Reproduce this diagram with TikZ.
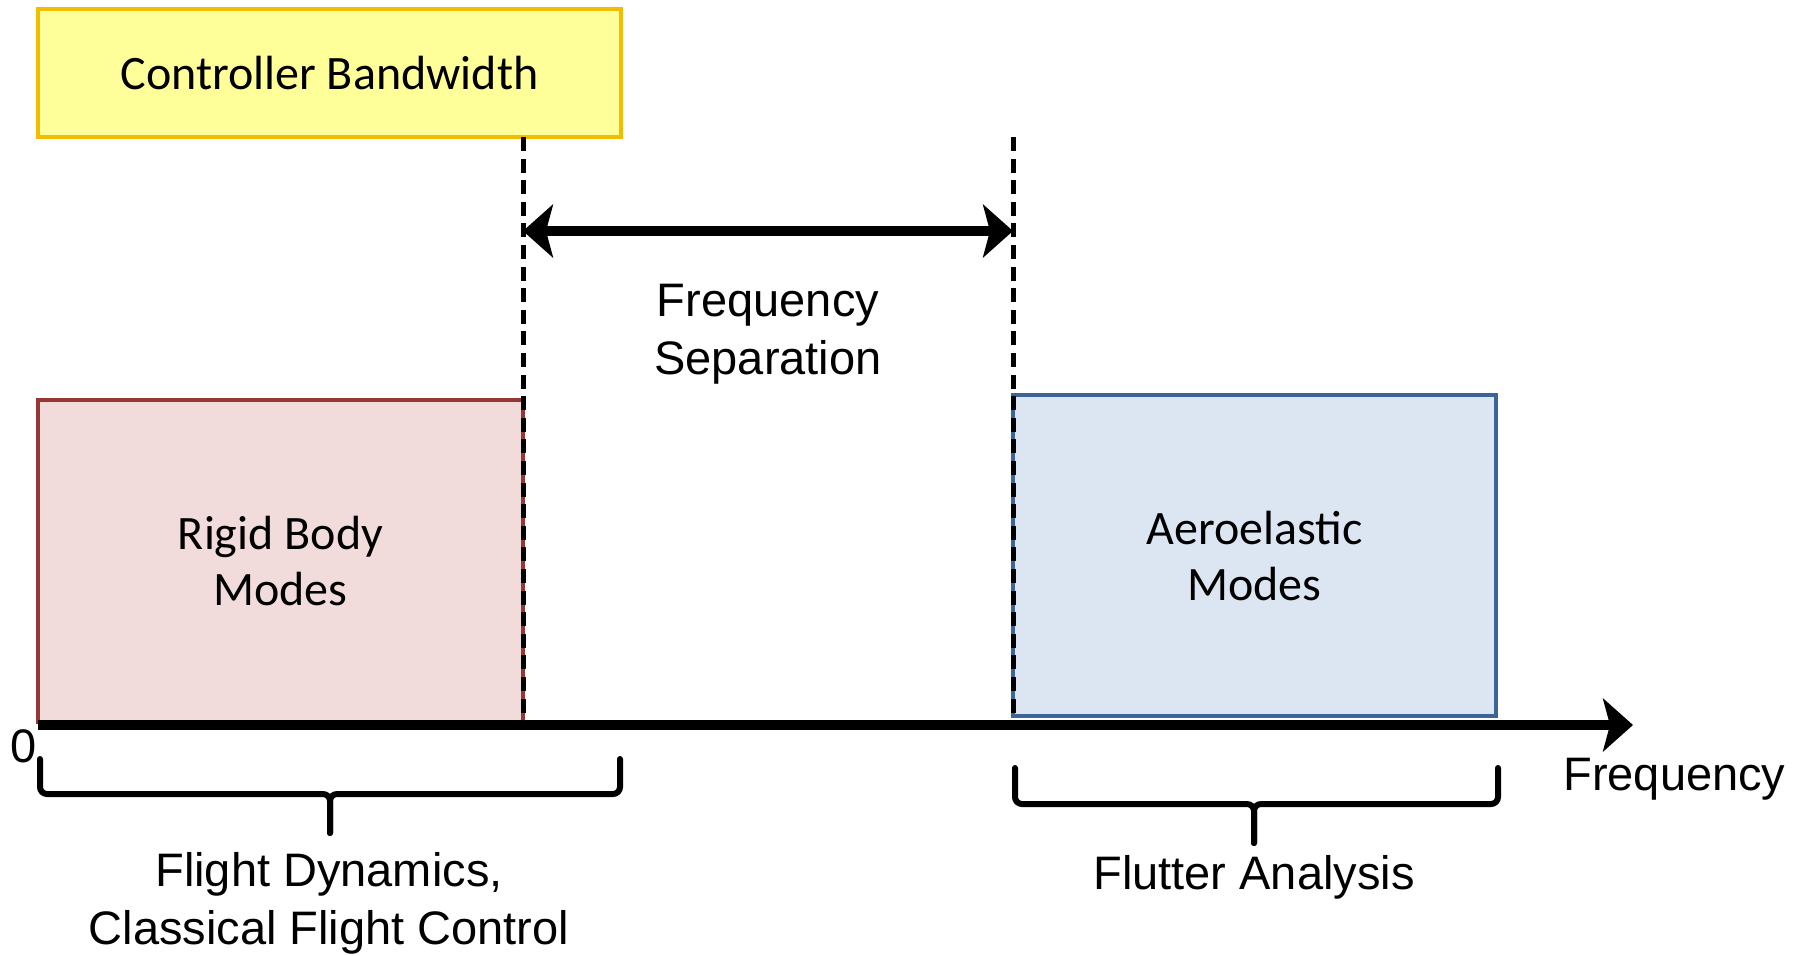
\documentclass[tikz,border=0pt]{standalone}
\usepackage{fontspec}
\setmainfont{Liberation Sans}
\newfontfamily\calfont{Carlito}
\usetikzlibrary{arrows.meta}
\definecolor{yfill}{HTML}{FFFF99}
\definecolor{ydraw}{HTML}{F2BC00}
\definecolor{rfill}{HTML}{F2DCDB}
\definecolor{rdraw}{HTML}{953735}
\definecolor{bfill}{HTML}{DCE6F2}
\definecolor{bdraw}{HTML}{3C6494}
\tikzset{
  modebox/.style={draw, line width=2.25pt, inner sep=0pt, align=center,
    font=\calfont\fontsize{24}{28}\selectfont},
  arialtext/.style={inner sep=0pt, align=center, font=\fontsize{23.5}{29}\selectfont},
  sepline/.style={line width=2.5pt, dash pattern=on 7pt off 3.8pt},
  bigarrow/.style={line width=4.75pt},
  bracepath/.style={line width=3pt, rounded corners=3.5pt, line cap=round},
  bigtip/.tip={Stealth[length=15pt, width=26.5pt, inset=3.5pt]}
}
\begin{document}
\begin{tikzpicture}[x=0.5pt, y=-0.5pt]
\useasboundingbox (0,0) rectangle (1796,955);
% boxes
\node[modebox, draw=ydraw, fill=yfill, minimum width=291.5pt, minimum height=64pt] (ctrl) at (329.5,73) {Controller Bandwidth};
\node[modebox, draw=rdraw, fill=rfill, minimum width=242.5pt, minimum height=161pt] (rigid) at (280.5,561) {Rigid Body\\Modes};
\node[modebox, draw=bdraw, fill=bfill, minimum width=241.5pt, minimum height=160.5pt] (aero) at (1254.5,555.5) {Aeroelastic\\Modes};
% coordinates
\coordinate (d1top) at (523,137);
\coordinate (d1bot) at (523,724);
\coordinate (d2top) at (1013,137);
\coordinate (d2bot) at (1013,724);
\coordinate (aL) at (523,231);
\coordinate (aR) at (1013,231);
\coordinate (origin) at (38,725);
\coordinate (axend) at (1633,725);
% dashed separators
\draw[sepline] (d1top) -- (d1bot);
\draw[sepline] (d2top) -- (d2bot);
% axis and frequency separation arrow
\draw[bigarrow, -bigtip] (origin) -- (axend);
\draw[bigarrow, bigtip-bigtip] (aL) -- (aR);
% texts
\node[arialtext] (sep) at (768,334) {Frequency\\Separation};
\node[arialtext, anchor=base] (zero) at (24,762) {0};
\node[arialtext, anchor=base west] (freq) at (1563,790) {Frequency};
\node[arialtext] (fd) at (329,903.5) {Flight Dynamics,\\Classical Flight Control};
\node[arialtext, anchor=base] (fa) at (1254,889) {Flutter Analysis};
% braces
\draw[bracepath] (40,759) -- (40,794) -- (330,794) -- (330,833);
\draw[bracepath] (620,759) -- (620,794) -- (330,794) -- (330,833);
\draw[bracepath] (1015,768) -- (1015,804) -- (1254,804) -- (1254,843);
\draw[bracepath] (1498,768) -- (1498,804) -- (1254,804) -- (1254,843);
\end{tikzpicture}
\end{document}
